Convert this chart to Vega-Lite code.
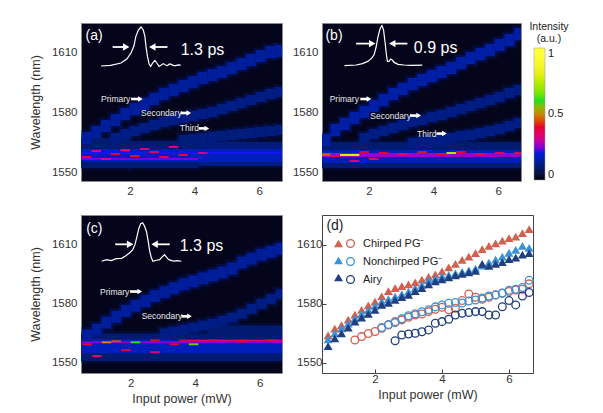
{
"$schema":"https://vega.github.io/schema/vega-lite/v6.json",
"background":"white",
"padding":{"left":28,"top":21,"right":2,"bottom":2},
"autosize":{"type":"pad"},
"config":{"font":"Liberation Sans","view":{"stroke":"#8a8a8a"},
"axis":{"grid":false,"domain":false,"ticks":false,"format":"d","labelFont":"Liberation Sans","labelFontSize":11.5,"labelColor":"#333","labelPadding":4,"titleFont":"Liberation Sans","titleFontSize":12.5,"titleFontWeight":"normal","titleColor":"#333","titlePadding":4},
"legend":{"labelFont":"Liberation Sans","titleFont":"Liberation Sans"},
"text":{"font":"Liberation Sans"}},
"columns":2,
"spacing":{"row":34,"column":40},
"bounds":"flush",
"resolve":{"scale":{"x":"independent","y":"independent","color":"independent","fill":"independent","stroke":"independent","shape":"independent","size":"independent","strokeWidth":"independent"},"axis":{"x":"independent","y":"independent"}},
"datasets":{
"ha":[
{"x":0.4,"x2":2.0,"y":1552,"y2":1567,"v":0.1},{"x":2.0,"x2":4.1,"y":1552,"y2":1565.5,"v":0.1},{"x":4.1,"x2":6.8,"y":1553,"y2":1565,"v":0.11},
{"x":0.4,"x2":6.8,"y":1555,"y2":1561.5,"v":0.17},{"x":0.4,"x2":4.1,"y":1556,"y2":1557,"v":0.24},{"x":0.4,"x2":6.8,"y":1559,"y2":1560,"v":0.22},
{"x":0.5,"x2":0.8,"y":1564,"y2":1570,"v":0.14},{"x":0.8,"x2":1.1,"y":1567,"y2":1573,"v":0.14},{"x":1.1,"x2":1.4,"y":1570,"y2":1576,"v":0.14},{"x":1.4,"x2":1.7,"y":1573,"y2":1579,"v":0.14},{"x":1.7,"x2":2.0,"y":1576,"y2":1582,"v":0.14},{"x":2.0,"x2":2.3,"y":1578.5,"y2":1584.5,"v":0.14},{"x":2.3,"x2":2.6,"y":1581,"y2":1587,"v":0.14},{"x":2.6,"x2":2.9,"y":1583.5,"y2":1589.5,"v":0.14},{"x":2.9,"x2":3.2,"y":1586,"y2":1592,"v":0.14},{"x":3.2,"x2":3.5,"y":1588,"y2":1594,"v":0.14},{"x":3.5,"x2":3.8,"y":1590,"y2":1596,"v":0.14},{"x":3.8,"x2":4.1,"y":1592,"y2":1598,"v":0.14},{"x":4.1,"x2":4.4,"y":1594,"y2":1600,"v":0.14},{"x":4.4,"x2":4.7,"y":1595.5,"y2":1601.5,"v":0.14},{"x":4.7,"x2":5.0,"y":1597,"y2":1603,"v":0.14},{"x":5.0,"x2":5.3,"y":1599,"y2":1605,"v":0.14},{"x":5.3,"x2":5.6,"y":1601,"y2":1607,"v":0.14},{"x":5.6,"x2":5.9,"y":1603,"y2":1609,"v":0.14},{"x":5.9,"x2":6.2,"y":1605,"y2":1611,"v":0.14},{"x":6.2,"x2":6.5,"y":1607,"y2":1613,"v":0.14},{"x":6.5,"x2":6.8,"y":1607.5,"y2":1613.5,"v":0.14},
{"x":1.4,"x2":1.7,"y":1564.5,"y2":1569.5,"v":0.12},{"x":1.7,"x2":2.0,"y":1566.5,"y2":1571.5,"v":0.12},{"x":2.0,"x2":2.3,"y":1568,"y2":1573,"v":0.12},{"x":2.3,"x2":2.6,"y":1569.5,"y2":1574.5,"v":0.12},{"x":2.6,"x2":2.9,"y":1571,"y2":1576,"v":0.12},{"x":2.9,"x2":3.2,"y":1572.5,"y2":1577.5,"v":0.12},{"x":3.2,"x2":3.5,"y":1573.5,"y2":1578.5,"v":0.12},{"x":3.5,"x2":3.8,"y":1574.5,"y2":1579.5,"v":0.12},{"x":3.8,"x2":4.1,"y":1575.5,"y2":1580.5,"v":0.12},{"x":4.1,"x2":4.4,"y":1576.5,"y2":1581.5,"v":0.12},{"x":4.4,"x2":4.7,"y":1577.5,"y2":1582.5,"v":0.12},{"x":4.7,"x2":5.0,"y":1579,"y2":1584,"v":0.12},{"x":5.0,"x2":5.3,"y":1580.5,"y2":1585.5,"v":0.12},{"x":5.3,"x2":5.6,"y":1582,"y2":1587,"v":0.12},{"x":5.6,"x2":5.9,"y":1583.5,"y2":1588.5,"v":0.12},{"x":5.9,"x2":6.2,"y":1585,"y2":1590,"v":0.12},{"x":6.2,"x2":6.5,"y":1586.5,"y2":1591.5,"v":0.12},{"x":6.5,"x2":6.8,"y":1587.5,"y2":1592.5,"v":0.12},
{"x":3.5,"x2":3.8,"y":1563.5,"y2":1568.5,"v":0.11},{"x":3.8,"x2":4.1,"y":1564,"y2":1569,"v":0.11},{"x":4.1,"x2":4.4,"y":1564.5,"y2":1569.5,"v":0.11},{"x":4.4,"x2":4.7,"y":1565,"y2":1570,"v":0.11},{"x":4.7,"x2":5.0,"y":1565.5,"y2":1570.5,"v":0.11},{"x":5.0,"x2":5.3,"y":1566,"y2":1571,"v":0.11},{"x":5.3,"x2":5.6,"y":1566.5,"y2":1571.5,"v":0.11},{"x":5.6,"x2":5.9,"y":1567,"y2":1572,"v":0.11},{"x":5.9,"x2":6.2,"y":1567.5,"y2":1572.5,"v":0.11},{"x":6.2,"x2":6.5,"y":1568,"y2":1573,"v":0.11},{"x":6.5,"x2":6.8,"y":1568.5,"y2":1573.5,"v":0.11},
{"x":0.5,"x2":0.8,"y":1557,"y2":1558,"v":0.38},{"x":0.8,"x2":1.1,"y":1560,"y2":1561,"v":0.33},{"x":1.1,"x2":1.4,"y":1556,"y2":1557,"v":0.32},{"x":1.4,"x2":1.7,"y":1558.5,"y2":1559.5,"v":0.4},{"x":1.7,"x2":2.0,"y":1560.5,"y2":1561.5,"v":0.35},{"x":2.0,"x2":2.3,"y":1557.5,"y2":1558.5,"v":0.42},{"x":2.3,"x2":2.6,"y":1561,"y2":1562,"v":0.32},{"x":2.6,"x2":2.9,"y":1559.5,"y2":1560.5,"v":0.36},{"x":2.9,"x2":3.2,"y":1557,"y2":1558,"v":0.38},{"x":3.2,"x2":3.5,"y":1562,"y2":1563,"v":0.34},{"x":3.5,"x2":3.8,"y":1558,"y2":1559,"v":0.4},{"x":4.1,"x2":4.4,"y":1559,"y2":1560,"v":0.3}
],
"hb":[
{"x":0.4,"x2":6.8,"y":1552,"y2":1565,"v":0.1},{"x":0.4,"x2":6.8,"y":1554.5,"y2":1561,"v":0.17},{"x":0.4,"x2":6.8,"y":1557.5,"y2":1559.5,"v":0.26},
{"x":0.5,"x2":0.8,"y":1563,"y2":1569,"v":0.15},{"x":0.8,"x2":1.1,"y":1568,"y2":1574,"v":0.15},{"x":1.1,"x2":1.4,"y":1571,"y2":1577,"v":0.15},{"x":1.4,"x2":1.7,"y":1574,"y2":1580,"v":0.15},{"x":1.7,"x2":2.0,"y":1577,"y2":1583,"v":0.15},{"x":2.0,"x2":2.3,"y":1580,"y2":1586,"v":0.15},{"x":2.3,"x2":2.6,"y":1583,"y2":1589,"v":0.15},{"x":2.6,"x2":2.9,"y":1586,"y2":1592,"v":0.15},{"x":2.9,"x2":3.2,"y":1588.5,"y2":1594.5,"v":0.15},{"x":3.2,"x2":3.5,"y":1591,"y2":1597,"v":0.15},{"x":3.5,"x2":3.8,"y":1593,"y2":1599,"v":0.15},{"x":3.8,"x2":4.1,"y":1595,"y2":1601,"v":0.15},{"x":4.1,"x2":4.4,"y":1597,"y2":1603,"v":0.15},{"x":4.4,"x2":4.7,"y":1599,"y2":1605,"v":0.15},{"x":4.7,"x2":5.0,"y":1601.5,"y2":1607.5,"v":0.15},{"x":5.0,"x2":5.3,"y":1604,"y2":1610,"v":0.15},{"x":5.3,"x2":5.6,"y":1606,"y2":1612,"v":0.15},{"x":5.6,"x2":5.9,"y":1608,"y2":1614,"v":0.15},{"x":5.9,"x2":6.2,"y":1610.5,"y2":1616.5,"v":0.15},{"x":6.2,"x2":6.5,"y":1613,"y2":1619,"v":0.15},{"x":6.5,"x2":6.8,"y":1616,"y2":1622,"v":0.15},
{"x":1.7,"x2":2.0,"y":1564.5,"y2":1569.5,"v":0.12},{"x":2.0,"x2":2.3,"y":1566.5,"y2":1571.5,"v":0.12},{"x":2.3,"x2":2.6,"y":1568,"y2":1573,"v":0.12},{"x":2.6,"x2":2.9,"y":1569.5,"y2":1574.5,"v":0.12},{"x":2.9,"x2":3.2,"y":1571,"y2":1576,"v":0.12},{"x":3.2,"x2":3.5,"y":1572.5,"y2":1577.5,"v":0.12},{"x":3.5,"x2":3.8,"y":1573.5,"y2":1578.5,"v":0.12},{"x":3.8,"x2":4.1,"y":1575,"y2":1580,"v":0.12},{"x":4.1,"x2":4.4,"y":1576,"y2":1581,"v":0.12},{"x":4.4,"x2":4.7,"y":1577.5,"y2":1582.5,"v":0.12},{"x":4.7,"x2":5.0,"y":1579,"y2":1584,"v":0.12},{"x":5.0,"x2":5.3,"y":1580.5,"y2":1585.5,"v":0.12},{"x":5.3,"x2":5.6,"y":1582,"y2":1587,"v":0.12},{"x":5.6,"x2":5.9,"y":1583.5,"y2":1588.5,"v":0.12},{"x":5.9,"x2":6.2,"y":1585,"y2":1590,"v":0.12},{"x":6.2,"x2":6.5,"y":1587,"y2":1592,"v":0.12},{"x":6.5,"x2":6.8,"y":1588.5,"y2":1593.5,"v":0.12},
{"x":3.2,"x2":3.5,"y":1562,"y2":1567,"v":0.12},{"x":3.5,"x2":3.8,"y":1562.5,"y2":1567.5,"v":0.12},{"x":3.8,"x2":4.1,"y":1563,"y2":1568,"v":0.12},{"x":4.1,"x2":4.4,"y":1563.5,"y2":1568.5,"v":0.12},{"x":4.4,"x2":4.7,"y":1564.5,"y2":1569.5,"v":0.12},{"x":4.7,"x2":5.0,"y":1565.5,"y2":1570.5,"v":0.12},{"x":5.0,"x2":5.3,"y":1566,"y2":1571,"v":0.12},{"x":5.3,"x2":5.6,"y":1567,"y2":1572,"v":0.12},{"x":5.6,"x2":5.9,"y":1568,"y2":1573,"v":0.12},{"x":5.9,"x2":6.2,"y":1569,"y2":1574,"v":0.12},{"x":6.2,"x2":6.5,"y":1570.5,"y2":1575.5,"v":0.12},{"x":6.5,"x2":6.8,"y":1572,"y2":1577,"v":0.12},
{"x":0.5,"x2":0.8,"y":1558,"y2":1559.5,"v":0.45},{"x":0.8,"x2":1.1,"y":1557.5,"y2":1558.5,"v":0.4},{"x":1.1,"x2":1.7,"y":1558,"y2":1559,"v":0.78},{"x":1.7,"x2":2.0,"y":1559.5,"y2":1560.5,"v":0.4},{"x":2.0,"x2":2.3,"y":1556,"y2":1557,"v":0.34},{"x":2.3,"x2":2.6,"y":1559,"y2":1560,"v":0.4},{"x":2.9,"x2":3.2,"y":1558.5,"y2":1559.5,"v":0.36},{"x":3.5,"x2":3.8,"y":1559.5,"y2":1560.5,"v":0.42},{"x":4.1,"x2":4.4,"y":1558.5,"y2":1559.5,"v":0.42},{"x":4.4,"x2":4.7,"y":1559,"y2":1560,"v":0.72},{"x":4.7,"x2":5.0,"y":1559.5,"y2":1560.5,"v":0.4},{"x":5.3,"x2":5.6,"y":1558.5,"y2":1559.5,"v":0.38},{"x":5.9,"x2":6.2,"y":1559,"y2":1560,"v":0.36},{"x":6.5,"x2":6.8,"y":1559,"y2":1560,"v":0.36},{"x":1.4,"x2":1.7,"y":1555,"y2":1556,"v":0.33}
],
"hc":[
{"x":0.4,"x2":6.8,"y":1551,"y2":1565,"v":0.1},{"x":0.4,"x2":6.8,"y":1555,"y2":1562,"v":0.17},{"x":0.4,"x2":6.8,"y":1560,"y2":1561,"v":0.25},{"x":4.4,"x2":6.8,"y":1563,"y2":1569,"v":0.1},
{"x":0.5,"x2":0.8,"y":1561,"y2":1567,"v":0.14},{"x":0.8,"x2":1.1,"y":1564,"y2":1570,"v":0.14},{"x":1.1,"x2":1.4,"y":1567.5,"y2":1573.5,"v":0.14},{"x":1.4,"x2":1.7,"y":1570.5,"y2":1576.5,"v":0.14},{"x":1.7,"x2":2.0,"y":1573.5,"y2":1579.5,"v":0.14},{"x":2.0,"x2":2.3,"y":1576,"y2":1582,"v":0.14},{"x":2.3,"x2":2.6,"y":1578.5,"y2":1584.5,"v":0.14},{"x":2.6,"x2":2.9,"y":1581,"y2":1587,"v":0.14},{"x":2.9,"x2":3.2,"y":1583,"y2":1589,"v":0.14},{"x":3.2,"x2":3.5,"y":1585,"y2":1591,"v":0.14},{"x":3.5,"x2":3.8,"y":1587,"y2":1593,"v":0.14},{"x":3.8,"x2":4.1,"y":1588.5,"y2":1594.5,"v":0.14},{"x":4.1,"x2":4.4,"y":1590,"y2":1596,"v":0.14},{"x":4.4,"x2":4.7,"y":1591.5,"y2":1597.5,"v":0.14},{"x":4.7,"x2":5.0,"y":1593,"y2":1599,"v":0.14},{"x":5.0,"x2":5.3,"y":1595,"y2":1601,"v":0.14},{"x":5.3,"x2":5.6,"y":1598,"y2":1604,"v":0.14},{"x":5.6,"x2":5.9,"y":1600,"y2":1606,"v":0.14},{"x":5.9,"x2":6.2,"y":1602,"y2":1608,"v":0.14},{"x":6.2,"x2":6.5,"y":1603.5,"y2":1609.5,"v":0.14},{"x":6.5,"x2":6.8,"y":1605,"y2":1611,"v":0.14},
{"x":2.9,"x2":3.2,"y":1562.5,"y2":1567.5,"v":0.12},{"x":3.2,"x2":3.5,"y":1563.5,"y2":1568.5,"v":0.12},{"x":3.5,"x2":3.8,"y":1564.5,"y2":1569.5,"v":0.12},{"x":3.8,"x2":4.1,"y":1565.5,"y2":1570.5,"v":0.12},{"x":4.1,"x2":4.4,"y":1566.5,"y2":1571.5,"v":0.12},{"x":4.4,"x2":4.7,"y":1567.5,"y2":1572.5,"v":0.12},{"x":4.7,"x2":5.0,"y":1569,"y2":1574,"v":0.12},{"x":5.0,"x2":5.3,"y":1570.5,"y2":1575.5,"v":0.12},{"x":5.3,"x2":5.6,"y":1572.5,"y2":1577.5,"v":0.12},{"x":5.6,"x2":5.9,"y":1575,"y2":1580,"v":0.12},{"x":5.9,"x2":6.2,"y":1577.5,"y2":1582.5,"v":0.12},{"x":6.2,"x2":6.5,"y":1580,"y2":1585,"v":0.12},{"x":6.5,"x2":6.8,"y":1582.5,"y2":1587.5,"v":0.12},
{"x":0.5,"x2":0.8,"y":1559,"y2":1560,"v":0.4},{"x":0.8,"x2":1.1,"y":1553,"y2":1554,"v":0.35},{"x":1.1,"x2":1.4,"y":1560,"y2":1561,"v":0.5},{"x":1.4,"x2":1.7,"y":1560.5,"y2":1561.5,"v":0.45},{"x":1.7,"x2":2.0,"y":1556,"y2":1557,"v":0.38},{"x":2.0,"x2":2.3,"y":1560,"y2":1561,"v":0.6},{"x":2.6,"x2":2.9,"y":1561,"y2":1562,"v":0.42},{"x":2.6,"x2":2.9,"y":1555,"y2":1556,"v":0.33},{"x":3.2,"x2":3.5,"y":1559,"y2":1560,"v":0.4},{"x":3.8,"x2":4.1,"y":1559,"y2":1560,"v":0.58},{"x":3.5,"x2":6.8,"y":1561,"y2":1561.8,"v":0.34},{"x":4.4,"x2":4.7,"y":1561,"y2":1562,"v":0.38},{"x":5.3,"x2":5.6,"y":1560.5,"y2":1561.5,"v":0.4},{"x":6.2,"x2":6.5,"y":1561,"y2":1562,"v":0.38}
],
"pa":[{"x":1.1,"y":1603},{"x":1.4,"y":1603.3},{"x":1.72,"y":1604.5},{"x":1.9,"y":1606.5},{"x":2.03,"y":1609.5},{"x":2.12,"y":1613},{"x":2.18,"y":1617.8},{"x":2.26,"y":1621},{"x":2.34,"y":1622.5},{"x":2.41,"y":1621},{"x":2.46,"y":1617.8},{"x":2.5,"y":1612},{"x":2.54,"y":1607.8},{"x":2.59,"y":1604},{"x":2.64,"y":1602.8},{"x":2.7,"y":1604.5},{"x":2.77,"y":1605.8},{"x":2.83,"y":1604.5},{"x":2.9,"y":1602.8},{"x":2.97,"y":1603.5},{"x":3.03,"y":1604.2},{"x":3.1,"y":1603.5},{"x":3.16,"y":1603.2},{"x":3.22,"y":1604},{"x":3.28,"y":1603.8},{"x":3.35,"y":1603.2},{"x":3.41,"y":1603.2},{"x":3.5,"y":1603.6},{"x":3.57,"y":1603.4}],
"pb":[{"x":1.24,"y":1603.2},{"x":1.6,"y":1603.5},{"x":1.8,"y":1604.2},{"x":1.96,"y":1605.3},{"x":2.08,"y":1606.8},{"x":2.16,"y":1608.7},{"x":2.22,"y":1612.5},{"x":2.28,"y":1617.8},{"x":2.35,"y":1622},{"x":2.4,"y":1623.2},{"x":2.45,"y":1621},{"x":2.5,"y":1614.5},{"x":2.54,"y":1608.5},{"x":2.57,"y":1605.3},{"x":2.62,"y":1605.3},{"x":2.67,"y":1606.5},{"x":2.72,"y":1606},{"x":2.78,"y":1604.8},{"x":2.9,"y":1603.8},{"x":3.08,"y":1603.5},{"x":3.3,"y":1603.3},{"x":3.65,"y":1603.4}],
"pc":[{"x":1.1,"y":1601.7},{"x":1.25,"y":1602.5},{"x":1.4,"y":1602},{"x":1.55,"y":1603},{"x":1.72,"y":1603.2},{"x":1.85,"y":1604.5},{"x":1.95,"y":1605.8},{"x":2.06,"y":1607.5},{"x":2.13,"y":1610},{"x":2.19,"y":1614},{"x":2.25,"y":1618.3},{"x":2.31,"y":1620.8},{"x":2.37,"y":1621.3},{"x":2.43,"y":1619.5},{"x":2.49,"y":1616.7},{"x":2.54,"y":1612},{"x":2.59,"y":1606.7},{"x":2.64,"y":1603.5},{"x":2.69,"y":1601.7},{"x":2.8,"y":1602.2},{"x":2.9,"y":1602.5},{"x":2.98,"y":1604},{"x":3.05,"y":1605},{"x":3.12,"y":1603.5},{"x":3.18,"y":1602.5},{"x":3.27,"y":1602},{"x":3.36,"y":1601.8},{"x":3.45,"y":1602},{"x":3.57,"y":1601.7}],
"aa":[{"x":1.46,"x2":1.88,"y":1612.5,"dir":"right","k":"pulse"},{"x":3.16,"x2":2.69,"y":1612.5,"dir":"left","k":"pulse"},{"x":2.03,"x2":2.32,"y":1586.5,"dir":"right","k":"band"},{"x":3.57,"x2":3.82,"y":1579.5,"dir":"right","k":"band"},{"x":4.13,"x2":4.38,"y":1571.8,"dir":"right","k":"band"}],
"ab":[{"x":1.6,"x2":2.1,"y":1614.2,"dir":"right","k":"pulse"},{"x":3.19,"x2":2.72,"y":1614.2,"dir":"left","k":"pulse"},{"x":1.73,"x2":2.0,"y":1586.5,"dir":"right","k":"band"},{"x":3.27,"x2":3.54,"y":1578.2,"dir":"right","k":"band"},{"x":4.09,"x2":4.34,"y":1569.2,"dir":"right","k":"band"}],
"ac":[{"x":1.52,"x2":1.98,"y":1610.3,"dir":"right","k":"pulse"},{"x":3.21,"x2":2.74,"y":1610.3,"dir":"left","k":"pulse"},{"x":1.98,"x2":2.28,"y":1586.3,"dir":"right","k":"band"},{"x":3.57,"x2":3.82,"y":1573.7,"dir":"right","k":"band"}],
"ta":[{"x":0.62,"y":1618,"t":"(a)","k":"panel"},{"x":3.57,"y":1611,"t":"1.3 ps","k":"width"},{"x":1.1,"y":1586.5,"t":"Primary","k":"band"},{"x":2.34,"y":1579.5,"t":"Secondary","k":"band"},{"x":3.54,"y":1571.8,"t":"Third","k":"band"}],
"tb":[{"x":0.65,"y":1618,"t":"(b)","k":"panel"},{"x":3.39,"y":1612,"t":"0.9 ps","k":"width"},{"x":0.78,"y":1586.5,"t":"Primary","k":"band"},{"x":2.04,"y":1578.2,"t":"Secondary","k":"band"},{"x":3.49,"y":1569.2,"t":"Third","k":"band"}],
"tc":[{"x":0.62,"y":1618,"t":"(c)","k":"panel"},{"x":3.52,"y":1609.2,"t":"1.3 ps","k":"width"},{"x":1.05,"y":1586.3,"t":"Primary","k":"band"},{"x":2.34,"y":1573.7,"t":"Secondary","k":"band"}],
"td":[{"x":0.55,"y":1619.7,"t":"(d)"}],
"dt":[
{"x":0.6,"y":1564,"s":"Chirped PG⁻"},{"x":0.8,"y":1567.5,"s":"Chirped PG⁻"},{"x":1.0,"y":1569.2,"s":"Chirped PG⁻"},{"x":1.2,"y":1572,"s":"Chirped PG⁻"},{"x":1.4,"y":1574.6,"s":"Chirped PG⁻"},{"x":1.6,"y":1577,"s":"Chirped PG⁻"},{"x":1.8,"y":1579.3,"s":"Chirped PG⁻"},{"x":2.0,"y":1581.2,"s":"Chirped PG⁻"},{"x":2.2,"y":1583.8,"s":"Chirped PG⁻"},{"x":2.4,"y":1586.5,"s":"Chirped PG⁻"},{"x":2.6,"y":1588,"s":"Chirped PG⁻"},{"x":2.8,"y":1589,"s":"Chirped PG⁻"},{"x":3.0,"y":1590,"s":"Chirped PG⁻"},{"x":3.2,"y":1591,"s":"Chirped PG⁻"},{"x":3.4,"y":1592.3,"s":"Chirped PG⁻"},{"x":3.6,"y":1593.8,"s":"Chirped PG⁻"},{"x":3.8,"y":1595,"s":"Chirped PG⁻"},{"x":4.0,"y":1596.5,"s":"Chirped PG⁻"},{"x":4.2,"y":1598.6,"s":"Chirped PG⁻"},{"x":4.4,"y":1600.3,"s":"Chirped PG⁻"},{"x":4.6,"y":1602.4,"s":"Chirped PG⁻"},{"x":4.8,"y":1604.1,"s":"Chirped PG⁻"},{"x":5.0,"y":1605.8,"s":"Chirped PG⁻"},{"x":5.2,"y":1607.8,"s":"Chirped PG⁻"},{"x":5.4,"y":1609.5,"s":"Chirped PG⁻"},{"x":5.6,"y":1610.8,"s":"Chirped PG⁻"},{"x":5.8,"y":1612.2,"s":"Chirped PG⁻"},{"x":6.0,"y":1613.4,"s":"Chirped PG⁻"},{"x":6.2,"y":1614.2,"s":"Chirped PG⁻"},{"x":6.4,"y":1616,"s":"Chirped PG⁻"},{"x":6.6,"y":1618,"s":"Chirped PG⁻"},
{"x":0.6,"y":1562,"s":"Nonchirped PG⁻"},{"x":0.8,"y":1565,"s":"Nonchirped PG⁻"},{"x":1.0,"y":1567.6,"s":"Nonchirped PG⁻"},{"x":1.2,"y":1570,"s":"Nonchirped PG⁻"},{"x":1.4,"y":1572.7,"s":"Nonchirped PG⁻"},{"x":1.6,"y":1575,"s":"Nonchirped PG⁻"},{"x":1.8,"y":1577,"s":"Nonchirped PG⁻"},{"x":2.0,"y":1579,"s":"Nonchirped PG⁻"},{"x":2.2,"y":1581.2,"s":"Nonchirped PG⁻"},{"x":2.4,"y":1582.5,"s":"Nonchirped PG⁻"},{"x":2.6,"y":1583.7,"s":"Nonchirped PG⁻"},{"x":2.8,"y":1585,"s":"Nonchirped PG⁻"},{"x":3.0,"y":1586.3,"s":"Nonchirped PG⁻"},{"x":3.2,"y":1588,"s":"Nonchirped PG⁻"},{"x":3.4,"y":1589.7,"s":"Nonchirped PG⁻"},{"x":3.6,"y":1592,"s":"Nonchirped PG⁻"},{"x":3.8,"y":1593,"s":"Nonchirped PG⁻"},{"x":4.0,"y":1594,"s":"Nonchirped PG⁻"},{"x":4.2,"y":1594.8,"s":"Nonchirped PG⁻"},{"x":4.4,"y":1595.5,"s":"Nonchirped PG⁻"},{"x":4.6,"y":1596.3,"s":"Nonchirped PG⁻"},{"x":4.8,"y":1597,"s":"Nonchirped PG⁻"},{"x":5.0,"y":1598,"s":"Nonchirped PG⁻"},{"x":5.2,"y":1599.5,"s":"Nonchirped PG⁻"},{"x":5.4,"y":1601,"s":"Nonchirped PG⁻"},{"x":5.6,"y":1602.5,"s":"Nonchirped PG⁻"},{"x":5.8,"y":1604,"s":"Nonchirped PG⁻"},{"x":6.0,"y":1606,"s":"Nonchirped PG⁻"},{"x":6.2,"y":1607.5,"s":"Nonchirped PG⁻"},{"x":6.4,"y":1609.5,"s":"Nonchirped PG⁻"},{"x":6.6,"y":1608.5,"s":"Nonchirped PG⁻"},
{"x":0.6,"y":1558.5,"s":"Airy"},{"x":0.8,"y":1562.5,"s":"Airy"},{"x":1.0,"y":1565,"s":"Airy"},{"x":1.2,"y":1568,"s":"Airy"},{"x":1.4,"y":1571,"s":"Airy"},{"x":1.6,"y":1573,"s":"Airy"},{"x":1.8,"y":1575,"s":"Airy"},{"x":2.0,"y":1577,"s":"Airy"},{"x":2.2,"y":1579.5,"s":"Airy"},{"x":2.4,"y":1580.5,"s":"Airy"},{"x":2.6,"y":1582,"s":"Airy"},{"x":2.8,"y":1583.5,"s":"Airy"},{"x":3.0,"y":1584.6,"s":"Airy"},{"x":3.2,"y":1586.5,"s":"Airy"},{"x":3.4,"y":1588,"s":"Airy"},{"x":3.6,"y":1590,"s":"Airy"},{"x":3.8,"y":1591.5,"s":"Airy"},{"x":4.0,"y":1592.5,"s":"Airy"},{"x":4.2,"y":1593.5,"s":"Airy"},{"x":4.4,"y":1594.5,"s":"Airy"},{"x":4.6,"y":1595.3,"s":"Airy"},{"x":4.8,"y":1596,"s":"Airy"},{"x":5.0,"y":1596.8,"s":"Airy"},{"x":5.2,"y":1600.3,"s":"Airy"},{"x":5.4,"y":1599.3,"s":"Airy"},{"x":5.6,"y":1600.3,"s":"Airy"},{"x":5.8,"y":1601.3,"s":"Airy"},{"x":6.0,"y":1602.8,"s":"Airy"},{"x":6.2,"y":1603.5,"s":"Airy"},{"x":6.4,"y":1605,"s":"Airy"},{"x":6.6,"y":1605.8,"s":"Airy"}
],
"dc":[
{"x":1.4,"y":1561.7,"s":"Chirped PG⁻"},{"x":1.6,"y":1563.4,"s":"Chirped PG⁻"},{"x":1.8,"y":1565,"s":"Chirped PG⁻"},{"x":2.0,"y":1566,"s":"Chirped PG⁻"},{"x":2.2,"y":1567.6,"s":"Chirped PG⁻"},{"x":2.4,"y":1569.3,"s":"Chirped PG⁻"},{"x":2.6,"y":1571,"s":"Chirped PG⁻"},{"x":2.8,"y":1571.9,"s":"Chirped PG⁻"},{"x":3.0,"y":1573.2,"s":"Chirped PG⁻"},{"x":3.2,"y":1574.4,"s":"Chirped PG⁻"},{"x":3.4,"y":1574.9,"s":"Chirped PG⁻"},{"x":3.6,"y":1576.1,"s":"Chirped PG⁻"},{"x":3.8,"y":1577.3,"s":"Chirped PG⁻"},{"x":4.0,"y":1578.3,"s":"Chirped PG⁻"},{"x":4.2,"y":1577,"s":"Chirped PG⁻"},{"x":4.4,"y":1577.8,"s":"Chirped PG⁻"},{"x":4.6,"y":1581.7,"s":"Chirped PG⁻"},{"x":4.8,"y":1585.1,"s":"Chirped PG⁻"},{"x":5.0,"y":1583.4,"s":"Chirped PG⁻"},{"x":5.2,"y":1582.4,"s":"Chirped PG⁻"},{"x":5.4,"y":1583.4,"s":"Chirped PG⁻"},{"x":5.6,"y":1584.6,"s":"Chirped PG⁻"},{"x":5.8,"y":1585.4,"s":"Chirped PG⁻"},{"x":6.0,"y":1586.3,"s":"Chirped PG⁻"},{"x":6.2,"y":1587.1,"s":"Chirped PG⁻"},{"x":6.4,"y":1587.5,"s":"Chirped PG⁻"},{"x":6.6,"y":1590.2,"s":"Chirped PG⁻"},
{"x":2.2,"y":1568,"s":"Nonchirped PG⁻"},{"x":2.4,"y":1569.5,"s":"Nonchirped PG⁻"},{"x":2.6,"y":1570.5,"s":"Nonchirped PG⁻"},{"x":2.8,"y":1572.5,"s":"Nonchirped PG⁻"},{"x":3.0,"y":1574,"s":"Nonchirped PG⁻"},{"x":3.2,"y":1575,"s":"Nonchirped PG⁻"},{"x":3.4,"y":1576,"s":"Nonchirped PG⁻"},{"x":3.6,"y":1577,"s":"Nonchirped PG⁻"},{"x":3.8,"y":1578.5,"s":"Nonchirped PG⁻"},{"x":4.0,"y":1579.5,"s":"Nonchirped PG⁻"},{"x":4.2,"y":1580.3,"s":"Nonchirped PG⁻"},{"x":4.4,"y":1580.7,"s":"Nonchirped PG⁻"},{"x":4.6,"y":1580.5,"s":"Nonchirped PG⁻"},{"x":4.8,"y":1581.5,"s":"Nonchirped PG⁻"},{"x":5.0,"y":1582,"s":"Nonchirped PG⁻"},{"x":5.2,"y":1583,"s":"Nonchirped PG⁻"},{"x":5.4,"y":1584,"s":"Nonchirped PG⁻"},{"x":5.6,"y":1584.5,"s":"Nonchirped PG⁻"},{"x":5.8,"y":1585.5,"s":"Nonchirped PG⁻"},{"x":6.0,"y":1587,"s":"Nonchirped PG⁻"},{"x":6.2,"y":1587.5,"s":"Nonchirped PG⁻"},{"x":6.4,"y":1588.4,"s":"Nonchirped PG⁻"},{"x":6.6,"y":1592,"s":"Nonchirped PG⁻"},
{"x":2.6,"y":1561.3,"s":"Airy"},{"x":2.8,"y":1564.2,"s":"Airy"},{"x":3.0,"y":1564.7,"s":"Airy"},{"x":3.2,"y":1565.1,"s":"Airy"},{"x":3.4,"y":1565.9,"s":"Airy"},{"x":3.6,"y":1566.8,"s":"Airy"},{"x":3.8,"y":1570.2,"s":"Airy"},{"x":4.0,"y":1571,"s":"Airy"},{"x":4.2,"y":1572.2,"s":"Airy"},{"x":4.4,"y":1574.4,"s":"Airy"},{"x":4.6,"y":1575.3,"s":"Airy"},{"x":4.8,"y":1575.6,"s":"Airy"},{"x":5.0,"y":1576.1,"s":"Airy"},{"x":5.2,"y":1576.1,"s":"Airy"},{"x":5.4,"y":1574.4,"s":"Airy"},{"x":5.6,"y":1574.4,"s":"Airy"},{"x":5.8,"y":1578.6,"s":"Airy"},{"x":6.0,"y":1581.7,"s":"Airy"},{"x":6.2,"y":1579.5,"s":"Airy"},{"x":6.4,"y":1584,"s":"Airy"},{"x":6.6,"y":1585.8,"s":"Airy"}
]
},
"concat":[
{"width":201,"height":158,"view":{"fill":"#04041a","stroke":"#8a8a8a"},
"layer":[
{"data":{"name":"ha"},"mark":{"type":"rect","clip":true,"fillOpacity":0,"strokeWidth":5,"strokeOpacity":0.3},"encoding":{
"x":{"field":"x","type":"quantitative","scale":{"domain":[0.48,6.71],"nice":false,"zero":false},"axis":{"values":[2,4,6],"title":null}},
"x2":{"field":"x2"},
"y":{"field":"y","type":"quantitative","scale":{"domain":[1545.5,1624.5],"nice":false,"zero":false},"axis":{"values":[1550,1580,1610],"title":"Wavelength (nm)","titleX":-46,"titleY":79,"titleBaseline":"middle","titleAlign":"center","titleAngle":-90}},
"y2":{"field":"y2"},
"stroke":{"field":"v","type":"quantitative","scale":{"domain":[0,0.2201,0.4201,0.6001,0.8201,1.0001],"range":["#020210","#1414f0","#e01020","#20e020","#f0f020","#ffffff"]},"legend":null}}},
{"data":{"name":"ha"},"mark":{"type":"rect","clip":true},"encoding":{"x":{"field":"x","type":"quantitative"},"x2":{"field":"x2"},"y":{"field":"y","type":"quantitative"},"y2":{"field":"y2"},"color":{"field":"v","type":"quantitative","scale":{"domain":[0,0.22,0.42,0.6,0.82,1],"range":["#020210","#1414f0","#e01020","#20e020","#f0f020","#ffffff"]},"legend":null}}},
{"data":{"name":"pa"},"mark":{"type":"line","color":"white","strokeWidth":1.2},"encoding":{"x":{"field":"x","type":"quantitative"},"y":{"field":"y","type":"quantitative"}}},
{"data":{"name":"aa"},"mark":{"type":"rule","color":"white"},"encoding":{"x":{"field":"x","type":"quantitative"},"x2":{"field":"x2"},"y":{"field":"y","type":"quantitative"},"strokeWidth":{"field":"k","type":"nominal","scale":{"domain":["pulse","band"],"range":[1.8,2.6]},"legend":null}}},
{"data":{"name":"aa"},"mark":{"type":"point","filled":true,"color":"white","opacity":1},"encoding":{"x":{"field":"x2","type":"quantitative"},"y":{"field":"y","type":"quantitative"},"shape":{"field":"dir","type":"nominal","scale":{"domain":["right","left"],"range":["triangle-right","triangle-left"]},"legend":null},"size":{"field":"k","type":"ordinal","scale":{"domain":["pulse","band"],"range":[55,30]},"legend":null}}},
{"data":{"name":"ta"},"transform":[{"filter":{"field":"k","equal":"panel"}}],"mark":{"type":"text","color":"white","fontSize":14,"align":"left","baseline":"middle"},"encoding":{"x":{"field":"x","type":"quantitative"},"y":{"field":"y","type":"quantitative"},"text":{"field":"t"}}},
{"data":{"name":"ta"},"transform":[{"filter":{"field":"k","equal":"width"}}],"mark":{"type":"text","color":"white","fontSize":16,"align":"left","baseline":"middle"},"encoding":{"x":{"field":"x","type":"quantitative"},"y":{"field":"y","type":"quantitative"},"text":{"field":"t"}}},
{"data":{"name":"ta"},"transform":[{"filter":{"field":"k","equal":"band"}}],"mark":{"type":"text","color":"#e8e8e8","fontSize":8.5,"align":"left","baseline":"middle"},"encoding":{"x":{"field":"x","type":"quantitative"},"y":{"field":"y","type":"quantitative"},"text":{"field":"t"}}}
]},
{"width":199,"height":158,"view":{"fill":"#04041a","stroke":"#8a8a8a"},
"layer":[
{"data":{"name":"hb"},"mark":{"type":"rect","clip":true,"fillOpacity":0,"strokeWidth":5,"strokeOpacity":0.3},"encoding":{
"x":{"field":"x","type":"quantitative","scale":{"domain":[0.543,6.71],"nice":false,"zero":false},"axis":{"values":[2,4,6],"title":null}},
"x2":{"field":"x2"},
"y":{"field":"y","type":"quantitative","scale":{"domain":[1545.5,1624.5],"nice":false,"zero":false},"axis":{"values":[1550,1580,1610],"title":null}},
"y2":{"field":"y2"},
"stroke":{"field":"v","type":"quantitative","scale":{"domain":[0,0.2201,0.4201,0.6001,0.8201,1.0001],"range":["#020210","#1414f0","#e01020","#20e020","#f0f020","#ffffff"]},"legend":null}}},
{"data":{"name":"hb"},"mark":{"type":"rect","clip":true},"encoding":{"x":{"field":"x","type":"quantitative"},"x2":{"field":"x2"},"y":{"field":"y","type":"quantitative"},"y2":{"field":"y2"},
"color":{"field":"v","type":"quantitative","scale":{"domain":[0,0.22,0.42,0.6,0.82,1],"range":["#020210","#1414f0","#e01020","#20e020","#f0f020","#ffffff"]},
"legend":{"orient":"none","legendX":207,"legendY":-1.5,"title":["Intensity","(a.u.)"],"titleFontSize":10.5,"titleFontWeight":"normal","titleAlign":"center","titleAnchor":"middle","titleColor":"#222","titlePadding":4,"titleLineHeight":12,"gradientLength":132,"gradientThickness":11,"gradientStrokeColor":"#999","gradientStrokeWidth":0.5,"values":[0,0.5,1],"format":"~g","labelFontSize":11,"labelColor":"#222","labelOffset":3,"direction":"vertical","padding":0}}}},
{"data":{"name":"pb"},"mark":{"type":"line","color":"white","strokeWidth":1.2},"encoding":{"x":{"field":"x","type":"quantitative"},"y":{"field":"y","type":"quantitative"}}},
{"data":{"name":"ab"},"mark":{"type":"rule","color":"white"},"encoding":{"x":{"field":"x","type":"quantitative"},"x2":{"field":"x2"},"y":{"field":"y","type":"quantitative"},"strokeWidth":{"field":"k","type":"nominal","scale":{"domain":["pulse","band"],"range":[1.8,2.6]},"legend":null}}},
{"data":{"name":"ab"},"mark":{"type":"point","filled":true,"color":"white","opacity":1},"encoding":{"x":{"field":"x2","type":"quantitative"},"y":{"field":"y","type":"quantitative"},"shape":{"field":"dir","type":"nominal","scale":{"domain":["right","left"],"range":["triangle-right","triangle-left"]},"legend":null},"size":{"field":"k","type":"ordinal","scale":{"domain":["pulse","band"],"range":[55,30]},"legend":null}}},
{"data":{"name":"tb"},"transform":[{"filter":{"field":"k","equal":"panel"}}],"mark":{"type":"text","color":"white","fontSize":14,"align":"left","baseline":"middle"},"encoding":{"x":{"field":"x","type":"quantitative"},"y":{"field":"y","type":"quantitative"},"text":{"field":"t"}}},
{"data":{"name":"tb"},"transform":[{"filter":{"field":"k","equal":"width"}}],"mark":{"type":"text","color":"white","fontSize":16,"align":"left","baseline":"middle"},"encoding":{"x":{"field":"x","type":"quantitative"},"y":{"field":"y","type":"quantitative"},"text":{"field":"t"}}},
{"data":{"name":"tb"},"transform":[{"filter":{"field":"k","equal":"band"}}],"mark":{"type":"text","color":"#e8e8e8","fontSize":8.5,"align":"left","baseline":"middle"},"encoding":{"x":{"field":"x","type":"quantitative"},"y":{"field":"y","type":"quantitative"},"text":{"field":"t"}}}
]},
{"width":201,"height":158,"view":{"fill":"#04041a","stroke":"#8a8a8a"},
"layer":[
{"data":{"name":"hc"},"mark":{"type":"rect","clip":true,"fillOpacity":0,"strokeWidth":5,"strokeOpacity":0.3},"encoding":{
"x":{"field":"x","type":"quantitative","scale":{"domain":[0.459,6.69],"nice":false,"zero":false},"axis":{"values":[2,4,6],"title":"Input power (mW)"}},
"x2":{"field":"x2"},
"y":{"field":"y","type":"quantitative","scale":{"domain":[1544.9,1625.2],"nice":false,"zero":false},"axis":{"values":[1550,1580,1610],"title":"Wavelength (nm)","titleX":-46,"titleY":79,"titleBaseline":"middle","titleAlign":"center","titleAngle":-90}},
"y2":{"field":"y2"},
"stroke":{"field":"v","type":"quantitative","scale":{"domain":[0,0.2201,0.4201,0.6001,0.8201,1.0001],"range":["#020210","#1414f0","#e01020","#20e020","#f0f020","#ffffff"]},"legend":null}}},
{"data":{"name":"hc"},"mark":{"type":"rect","clip":true},"encoding":{"x":{"field":"x","type":"quantitative"},"x2":{"field":"x2"},"y":{"field":"y","type":"quantitative"},"y2":{"field":"y2"},"color":{"field":"v","type":"quantitative","scale":{"domain":[0,0.22,0.42,0.6,0.82,1],"range":["#020210","#1414f0","#e01020","#20e020","#f0f020","#ffffff"]},"legend":null}}},
{"data":{"name":"pc"},"mark":{"type":"line","color":"white","strokeWidth":1.2},"encoding":{"x":{"field":"x","type":"quantitative"},"y":{"field":"y","type":"quantitative"}}},
{"data":{"name":"ac"},"mark":{"type":"rule","color":"white"},"encoding":{"x":{"field":"x","type":"quantitative"},"x2":{"field":"x2"},"y":{"field":"y","type":"quantitative"},"strokeWidth":{"field":"k","type":"nominal","scale":{"domain":["pulse","band"],"range":[1.8,2.6]},"legend":null}}},
{"data":{"name":"ac"},"mark":{"type":"point","filled":true,"color":"white","opacity":1},"encoding":{"x":{"field":"x2","type":"quantitative"},"y":{"field":"y","type":"quantitative"},"shape":{"field":"dir","type":"nominal","scale":{"domain":["right","left"],"range":["triangle-right","triangle-left"]},"legend":null},"size":{"field":"k","type":"ordinal","scale":{"domain":["pulse","band"],"range":[55,30]},"legend":null}}},
{"data":{"name":"tc"},"transform":[{"filter":{"field":"k","equal":"panel"}}],"mark":{"type":"text","color":"white","fontSize":14,"align":"left","baseline":"middle"},"encoding":{"x":{"field":"x","type":"quantitative"},"y":{"field":"y","type":"quantitative"},"text":{"field":"t"}}},
{"data":{"name":"tc"},"transform":[{"filter":{"field":"k","equal":"width"}}],"mark":{"type":"text","color":"white","fontSize":16,"align":"left","baseline":"middle"},"encoding":{"x":{"field":"x","type":"quantitative"},"y":{"field":"y","type":"quantitative"},"text":{"field":"t"}}},
{"data":{"name":"tc"},"transform":[{"filter":{"field":"k","equal":"band"}}],"mark":{"type":"text","color":"#e8e8e8","fontSize":8.5,"align":"left","baseline":"middle"},"encoding":{"x":{"field":"x","type":"quantitative"},"y":{"field":"y","type":"quantitative"},"text":{"field":"t"}}}
]},
{"width":211,"height":158,"view":{"fill":"white","stroke":"#444"},
"layer":[
{"data":{"name":"dt"},"mark":{"type":"point","shape":"triangle-up","filled":true,"size":80,"opacity":1,"strokeWidth":0},"encoding":{
"x":{"field":"x","type":"quantitative","scale":{"domain":[0.418,6.716],"nice":false,"zero":false},"axis":{"values":[2,4,6],"title":"Input power (mW)","ticks":true,"tickSize":-4,"tickColor":"#444"}},
"y":{"field":"y","type":"quantitative","scale":{"domain":[1544.9,1625.2],"nice":false,"zero":false},"axis":{"values":[1550,1580,1610],"title":null,"ticks":true,"tickSize":-4,"tickColor":"#444"}},
"fill":{"field":"s","type":"nominal","scale":{"domain":["Chirped PG⁻","Nonchirped PG⁻","Airy"],"range":["#d2604e","#3a92d8","#203f80"]},"legend":{"orient":"none","legendX":11,"legendY":23,"title":null,"symbolType":"triangle-up","symbolSize":80,"labelExpr":"''","labelFontSize":11,"rowPadding":5,"padding":0,"symbolStrokeWidth":0}}}},
{"data":{"name":"dc"},"mark":{"type":"point","shape":"circle","filled":false,"size":60,"strokeWidth":1.3,"opacity":1},"encoding":{
"x":{"field":"x","type":"quantitative"},
"y":{"field":"y","type":"quantitative"},
"stroke":{"field":"s","type":"nominal","sort":["Chirped PG⁻","Nonchirped PG⁻","Airy"],"scale":{"range":["#d2604e","#3a92d8","#203f80"]},"legend":{"orient":"none","legendX":23,"legendY":23,"title":null,"symbolType":"circle","symbolSize":60,"symbolStrokeWidth":1.3,"labelFontSize":11,"labelColor":"#222","labelOffset":7,"rowPadding":5,"padding":0}}}},
{"data":{"name":"td"},"mark":{"type":"text","color":"#222","fontSize":14,"align":"left","baseline":"middle"},"encoding":{"x":{"field":"x","type":"quantitative"},"y":{"field":"y","type":"quantitative"},"text":{"field":"t"}}}
]}
]
}
